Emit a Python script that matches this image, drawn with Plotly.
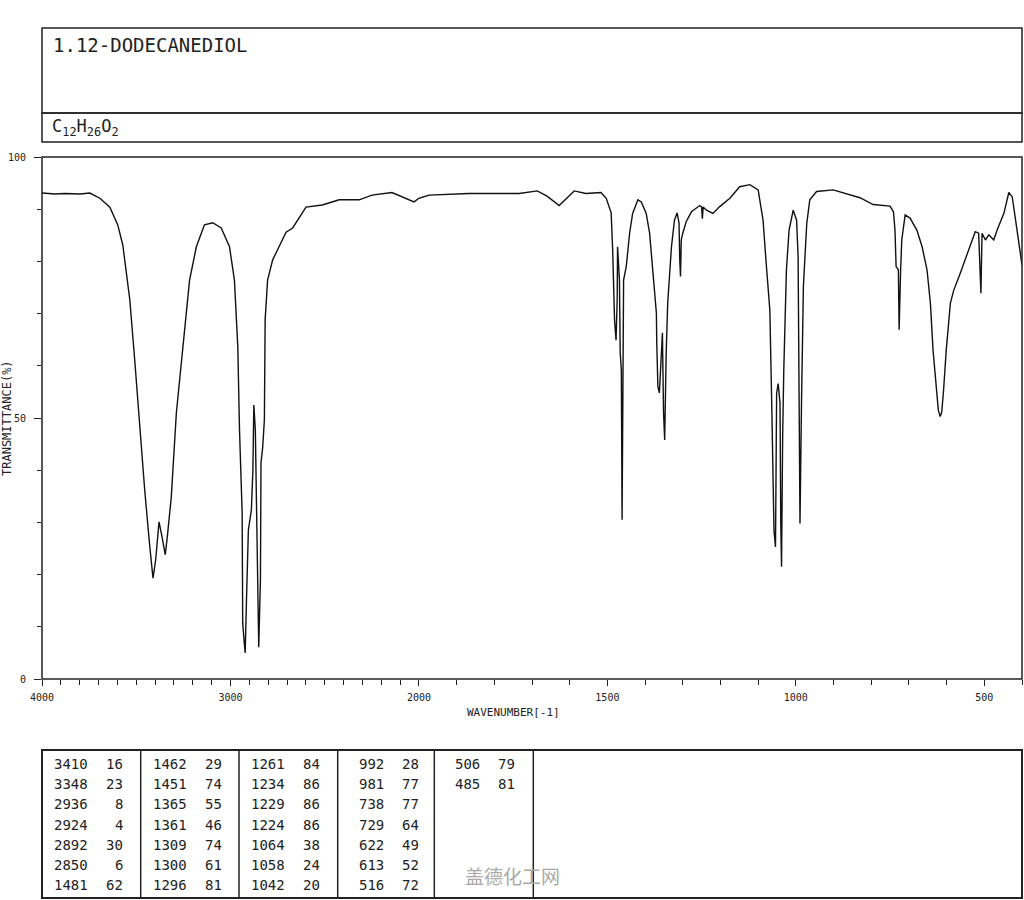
import plotly.graph_objects as go

# ---------------- data ----------------
compound_name = "1.12-DODECANEDIOL"
formula = "C<sub>12</sub>H<sub>26</sub>O<sub>2</sub>"

wavenumber = [4000, 3931, 3878, 3799, 3746, 3693, 3640, 3598, 3571, 3534, 3508, 3481, 3455, 3429,
              3411, 3397, 3379, 3365, 3346, 3334, 3314, 3287, 3252, 3217, 3181, 3138, 3094, 3049,
              3005, 2979, 2961, 2952, 2938, 2935, 2928, 2922, 2915, 2905, 2897, 2889, 2881, 2876,
              2868, 2860, 2850, 2841, 2838, 2829, 2820, 2816, 2803, 2776, 2732, 2705, 2670, 2635,
              2599, 2513, 2423, 2317, 2249, 2143, 2090, 2026, 2000,
              1973, 1867, 1734, 1686, 1660, 1628, 1606, 1588, 1557, 1517, 1503, 1490, 1486, 1481,
              1477, 1474, 1473, 1468, 1466, 1463, 1461, 1459, 1457, 1450, 1441, 1433, 1419, 1410,
              1397, 1388, 1379, 1370, 1369, 1366, 1362, 1357, 1354, 1351, 1348, 1344, 1340, 1330,
              1322, 1315, 1310, 1308, 1306, 1304, 1300, 1291, 1277, 1255, 1250, 1248, 1246, 1237,
              1220, 1202, 1175, 1149, 1122, 1100, 1087, 1078, 1069, 1064, 1060, 1058, 1054, 1051,
              1047, 1042, 1040, 1038, 1035, 1032, 1025, 1018, 1007, 998, 994, 991, 989, 985, 980,
              971, 963, 945, 901, 830, 795, 750, 741, 737, 734, 728, 726, 722, 719, 710, 697, 679,
              665, 652, 643, 636, 627, 622, 617, 613, 608, 601, 590, 581, 564, 546, 524, 515, 512,
              509, 506, 497, 488, 475, 466, 448, 435, 426, 417, 408, 400]
transmittance = [93.1, 92.9, 93.0, 92.9, 93.1, 92.1, 90.4, 87.0, 83.1, 72.6, 61.1, 47.7, 36.2, 25.7,
                 19.3, 22.8, 30.1, 27.6, 23.8, 27.6, 34.9, 51.0, 63.6, 76.4, 82.8, 87.0, 87.4, 86.4,
                 82.8, 76.4, 63.6, 47.7, 31.8, 10.7, 7.5, 5.0, 15.1, 28.5, 30.5, 32.4, 40.0, 52.5,
                 47.7, 30.5, 6.1, 19.0, 41.4, 44.4, 49.6, 68.8, 76.4, 80.3, 83.5, 85.6, 86.4, 88.3,
                 90.4, 90.8, 91.8, 91.8, 92.7, 93.2, 92.4, 91.4, 92.1,
                 92.7, 93.0, 93.0, 93.5, 92.5, 90.7, 92.3, 93.5, 93.0, 93.2, 92.1, 89.3, 82.2, 68.8,
                 64.9, 72.6, 82.8, 76.4, 62.5, 59.2, 30.5, 53.4, 76.4, 79.0, 85.4, 89.2, 91.8, 91.4,
                 89.2, 85.4, 78.4, 70.1, 64.4, 56.0, 54.8, 63.7, 66.3, 51.0, 45.8, 62.4, 72.0, 82.8,
                 87.9, 89.3, 87.4, 80.3, 77.1, 84.1, 85.4, 87.6, 89.5, 90.7, 90.4, 88.2, 90.4, 89.8,
                 89.2, 90.5, 92.1, 94.3, 94.7, 93.7, 87.9, 79.0, 70.7, 52.8, 40.0, 28.5, 25.3, 54.7,
                 56.6, 52.9, 29.9, 21.5, 46.4, 59.2, 78.4, 86.0, 89.8, 87.9, 80.9, 54.1, 29.8, 52.8, 75.2,
                 87.3, 91.8, 93.4, 93.7, 92.2, 90.9, 90.6, 89.5, 86.0, 79.0, 78.4, 66.9, 78.4, 84.1, 88.9, 88.3, 86.0,
                 82.8, 78.4, 72.0, 63.0, 55.4, 51.5, 50.3, 51.1, 55.4, 63.0, 72.0, 74.5, 77.7, 81.5, 85.7, 85.4, 79.0,
                 73.9, 85.4, 84.1, 85.1, 84.1, 86.0, 89.2, 93.2, 92.4, 87.9, 82.8, 79.3]

peak_wn = [3410, 3348, 2936, 2924, 2892, 2850, 1481,
           1462, 1451, 1365, 1361, 1309, 1300, 1296,
           1261, 1234, 1229, 1224, 1064, 1058, 1042,
           992, 981, 738, 729, 622, 613, 516,
           506, 485]
peak_t = [16, 23, 8, 4, 30, 6, 62,
          29, 74, 55, 46, 74, 61, 81,
          84, 86, 86, 86, 38, 24, 20,
          28, 77, 77, 64, 49, 52, 72,
          79, 81]

x_left_labels = [4000, 3000]
x_right_labels = [2000, 1500, 1000, 500]
x_left_minor = list(range(4000, 2000, -100))
x_right_minor = list(range(2000, 399, -100))

watermark = "盖德化工网"

# ---------------- geometry helpers (pixels -> paper) ----------------
W, H = 1024, 900
L, R, T, B = 42, 1022, 157, 679
PW, PH = R - L, B - T


def px(x):
    return (x - L) / PW


def py(y):
    return (B - y) / PH


split = 5 / 13  # 4000-2000 region drawn at half the scale of 2000-400

left_x = [w for w in wavenumber if w >= 2000]
left_y = [t for w, t in zip(wavenumber, transmittance) if w >= 2000]
right_x = [w for w in wavenumber if w <= 2000]
right_y = [t for w, t in zip(wavenumber, transmittance) if w <= 2000]

line_style = dict(color="#111111", width=1.4)

fig = go.Figure()
fig.add_trace(go.Scatter(x=left_x, y=left_y, mode="lines", line=line_style,
                         xaxis="x", yaxis="y", showlegend=False, hoverinfo="skip"))
fig.add_trace(go.Scatter(x=right_x, y=right_y, mode="lines", line=line_style,
                         xaxis="x2", yaxis="y", showlegend=False, hoverinfo="skip"))

tick_font = dict(family="DejaVu Sans Mono", size=10, color="#222222")
minor_style = dict(ticks="outside", ticklen=5, tickwidth=1, tickcolor="#222222", showgrid=False)

fig.update_layout(
    width=W, height=H,
    margin=dict(l=L, r=W - R, t=T, b=H - B, pad=0),
    paper_bgcolor="white", plot_bgcolor="white",
    xaxis=dict(domain=[0, split], range=[4000, 2000], anchor="y",
               tickmode="array", tickvals=x_left_labels, ticktext=[str(v) for v in x_left_labels],
               ticks="outside", ticklen=6, tickwidth=1, tickcolor="#222222",
               minor=dict(tickmode="array", tickvals=x_left_minor, **minor_style),
               showgrid=False, zeroline=False, showline=False, tickfont=tick_font,
               ticklabelstandoff=3),
    xaxis2=dict(domain=[split, 1], range=[2000, 400], anchor="y",
                tickmode="array", tickvals=x_right_labels, ticktext=[str(v) for v in x_right_labels],
                ticks="outside", ticklen=6, tickwidth=1, tickcolor="#222222",
                minor=dict(tickmode="array", tickvals=x_right_minor, **minor_style),
                showgrid=False, zeroline=False, showline=False, tickfont=tick_font,
                ticklabelstandoff=3),
    yaxis=dict(range=[0, 100], dtick=50, tick0=0, ticks="outside", ticklen=7,
               tickwidth=1, tickcolor="#222222",
               minor=dict(dtick=10, tick0=0, ticks="outside", ticklen=4, tickcolor="#222222"),
               showgrid=False, zeroline=False, showline=False, tickfont=tick_font,
               ticklabelstandoff=6),
)

frame = dict(color="#222222", width=1.5)
shapes = [
    dict(type="rect", xref="paper", yref="paper", x0=0, x1=1, y0=0, y1=1, line=frame),
    dict(type="rect", xref="paper", yref="paper", x0=0, x1=1, y0=py(113), y1=py(28), line=frame),
    dict(type="rect", xref="paper", yref="paper", x0=0, x1=1, y0=py(142), y1=py(113), line=frame),
    dict(type="rect", xref="paper", yref="paper", x0=0, x1=1, y0=py(898), y1=py(750),
         line=dict(color="#222222", width=2)),
]
col_edges = [42, 140.7, 239, 337.7, 434.3, 533.3]
for xe in col_edges[1:]:
    shapes.append(dict(type="line", xref="paper", yref="paper", x0=px(xe), x1=px(xe),
                       y0=py(898), y1=py(750), line=dict(color="#222222", width=1.5)))
fig.update_layout(shapes=shapes)

ann = []
ann.append(dict(text=compound_name, xref="paper", yref="paper", x=px(51), y=py(45),
                xanchor="left", yanchor="middle", showarrow=False,
                font=dict(family="DejaVu Sans Mono", size=19, color="#222222")))
ann.append(dict(text=formula, xref="paper", yref="paper", x=px(50), y=py(128),
                xanchor="left", yanchor="middle", showarrow=False,
                font=dict(family="DejaVu Sans Mono", size=17, color="#222222")))
ann.append(dict(text="TRANSMITTANCE(%)", xref="paper", yref="paper", x=px(7), y=0.5,
                xanchor="center", yanchor="middle", textangle=-90, showarrow=False,
                font=dict(family="DejaVu Sans Mono", size=12, color="#222222")))
ann.append(dict(text="WAVENUMBER[-1]", xref="paper", yref="paper", x=px(513), y=py(712),
                xanchor="center", yanchor="middle", showarrow=False,
                font=dict(family="DejaVu Sans Mono", size=11, color="#222222")))

for i, (w, t) in enumerate(zip(peak_wn, peak_t)):
    c, r = divmod(i, 7)
    left = col_edges[c]
    yrow = py(764 + 20.2 * r)
    ann.append(dict(text=str(w), xref="paper", yref="paper", x=px(left + 48), y=yrow,
                    xanchor="right", yanchor="middle", showarrow=False,
                    font=dict(family="DejaVu Sans Mono", size=14, color="#222222")))
    ann.append(dict(text=str(t), xref="paper", yref="paper", x=px(left + 83), y=yrow,
                    xanchor="right", yanchor="middle", showarrow=False,
                    font=dict(family="DejaVu Sans Mono", size=14, color="#222222")))

ann.append(dict(text=watermark, xref="paper", yref="paper", x=px(512), y=py(875),
                xanchor="center", yanchor="middle", showarrow=False,
                font=dict(family="Noto Sans CJK SC", size=19, color="#aaaaaa")))
fig.update_layout(annotations=ann)

fig.write_html("out.html", config={"displayModeBar": False},
               post_script="document.body.style.margin='0';document.body.style.padding='0';")
